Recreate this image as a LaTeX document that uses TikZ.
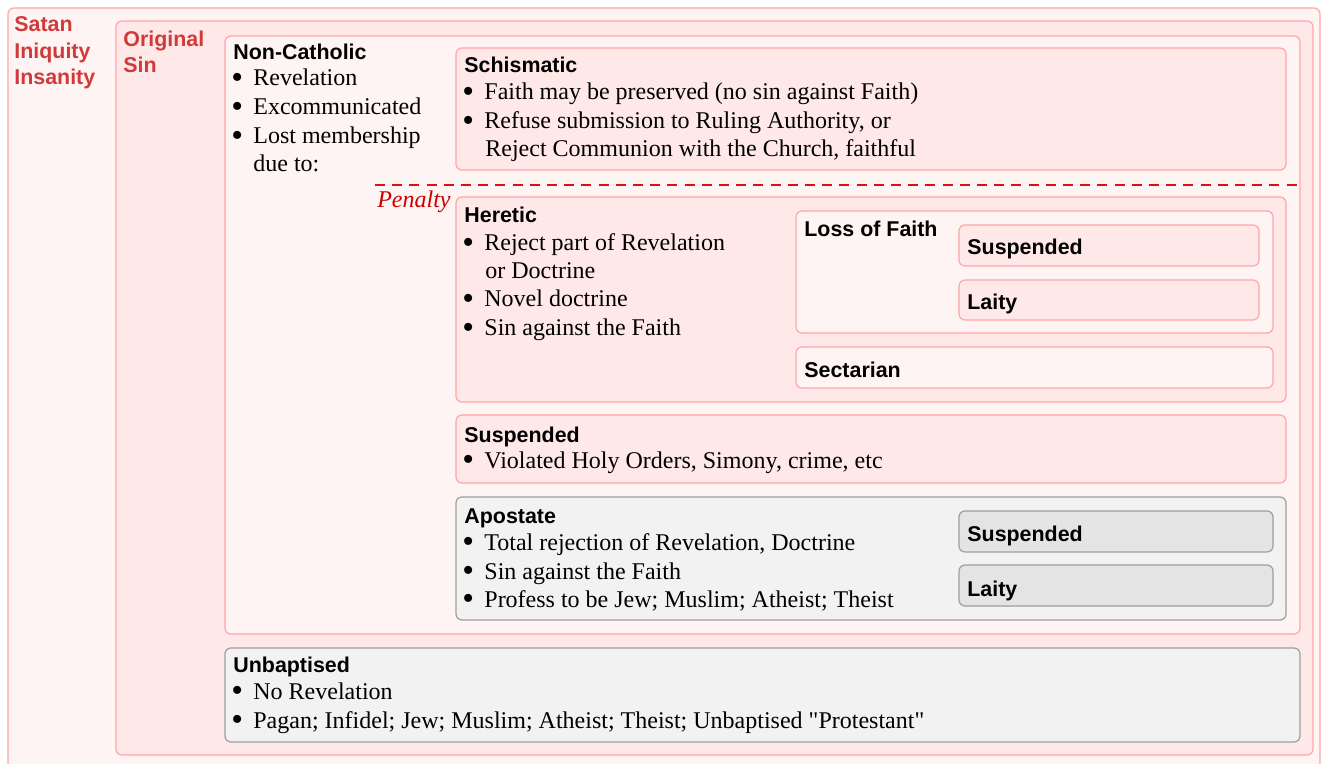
\documentclass[tikz,border=0pt]{standalone}
\usepackage{fontspec}
\usepackage{graphicx}
\setmainfont{Liberation Serif}[Ligatures=TeXOff]
\setsansfont{Liberation Sans}
\usetikzlibrary{fit}
\definecolor{pinkA}{HTML}{FFF4F4}
\definecolor{pinkB}{HTML}{FFE8E8}
\definecolor{pinkLine}{HTML}{FFA5A5}
\definecolor{grayA}{HTML}{F2F2F2}
\definecolor{grayB}{HTML}{E4E4E4}
\definecolor{grayLine}{HTML}{9E9E9E}
\definecolor{titleRed}{HTML}{D23A3A}
\definecolor{dashRed}{HTML}{DD1111}
\definecolor{penRed}{HTML}{CC0000}
\newcommand\bul{\makebox[10pt][l]{\hspace*{-1pt}\raisebox{-0.09em}{\scalebox{1.4}{\textbullet}}}}
\begin{document}
\begin{tikzpicture}[x=0.5pt,y=-0.5pt,
 box/.style={draw, rounded corners=3pt, line width=0.6pt, inner sep=0pt},
 lightbox/.style={box, draw=pinkLine, fill=pinkA},
 darkbox/.style={box, draw=pinkLine, fill=pinkB},
 graybox/.style={box, draw=grayLine, fill=grayA},
 graybtn/.style={box, draw=grayLine, fill=grayB},
 txt/.style={anchor=base west, inner sep=0pt, yshift=-1pt, font=\fontsize{12}{14}\selectfont},
 ttl/.style={anchor=base west, inner sep=0pt, yshift=-1pt, font=\fontsize{10.7}{13}\selectfont\sffamily\bfseries},
 redttl/.style={ttl, text=titleRed},
 penaltyline/.style={draw=dashRed, line width=1pt, dash pattern=on 5pt off 3.6pt},
]
\useasboundingbox (0,0) rectangle (1327,764);
\fill[white] (0,0) rectangle (1327,764);

% boxes
\node[lightbox, fit={(8,8) (1320,772)}] (satan) {};
\node[darkbox, fit={(116,21) (1313,755)}] (orig) {};
\node[lightbox, fit={(225,36) (1300,634)}] (noncath) {};
\node[graybox, fit={(225,648) (1300,742)}] (unbap) {};
\node[darkbox, fit={(456,48) (1286,170)}] (schism) {};
\node[darkbox, fit={(456,197) (1286,402)}] (heretic) {};
\node[lightbox, fit={(796,211) (1273,333)}] (lossfaith) {};
\node[darkbox, fit={(959,225) (1259,266)}] (lfsusp) {};
\node[darkbox, fit={(959,280) (1259,320)}] (lflaity) {};
\node[lightbox, fit={(796,347) (1273,388)}] (sect) {};
\node[darkbox, fit={(456,415) (1286,483)}] (susp) {};
\node[graybox, fit={(456,497) (1286,620)}] (apost) {};
\node[graybtn, fit={(959,511) (1273,552)}] (apsusp) {};
\node[graybtn, fit={(959,565) (1273,606)}] (aplaity) {};

% penalty line
\coordinate (penL) at (375,185);
\coordinate (penR) at (1300,185);
\draw[penaltyline] (penL) -- (penR);
\node[anchor=base east, inner sep=0pt, yshift=-1pt, text=penRed, font=\fontsize{12}{14}\selectfont\itshape] (penalty) at (451,206) {Penalty};

% outer titles
\node[redttl] (t1) at (14,30) {Satan};
\node[redttl] (t2) at (14,57) {Iniquity};
\node[redttl] (t3) at (14,83) {Insanity};
\node[redttl] (t4) at (123,45) {Original};
\node[redttl] (t5) at (123,71) {Sin};

% Non-Catholic
\node[ttl] (nc0) at (233,58) {Non-Catholic};
\node[txt] (nc1) at (233,84) {\bul Revelation};
\node[txt] (nc2) at (233,113) {\bul Excommunicated};
\node[txt] (nc3) at (233,142) {\bul Lost membership};
\node[txt] (nc4) at (253,170) {due to:};

% Schismatic
\node[ttl] (s0) at (464,71) {Schismatic};
\node[txt] (s1) at (464,98) {\bul Faith may be preserved (no sin against Faith)};
\node[txt] (s2) at (464,127) {\bul Refuse submission to Ruling Authority, or};
\node[txt] (s3) at (485,155) {Reject Communion with the Church, faithful};

% Heretic
\node[ttl] (h0) at (464,221) {Heretic};
\node[txt] (h1) at (464,249) {\bul Reject part of Revelation};
\node[txt] (h2) at (485,277) {or Doctrine};
\node[txt] (h3) at (464,305) {\bul Novel doctrine};
\node[txt] (h4) at (464,334) {\bul Sin against the Faith};
\node[ttl] (lf0) at (804,235) {Loss of Faith};
\node[ttl] (lf1) at (967,253) {Suspended};
\node[ttl] (lf2) at (967,308) {Laity};
\node[ttl] (se0) at (804,376) {Sectarian};

% Suspended
\node[ttl] (su0) at (464,440) {Suspended};
\node[txt] (su1) at (464,466) {\bul Violated Holy Orders, Simony, crime, etc};

% Apostate
\node[ttl] (a0) at (464,521) {Apostate};
\node[txt] (a1) at (464,548) {\bul Total rejection of Revelation, Doctrine};
\node[txt] (a2) at (464,577) {\bul Sin against the Faith};
\node[txt] (a3) at (464,605) {\bul Profess to be Jew; Muslim; Atheist; Theist};
\node[ttl] (as1) at (967,539) {Suspended};
\node[ttl] (as2) at (967,594) {Laity};

% Unbaptised
\node[ttl] (u0) at (233,670) {Unbaptised};
\node[txt] (u1) at (233,697) {\bul No Revelation};
\node[txt] (u2) at (233,726) {\bul Pagan; Infidel; Jew; Muslim; Atheist; Theist; Unbaptised "Protestant"};
\end{tikzpicture}
\end{document}
